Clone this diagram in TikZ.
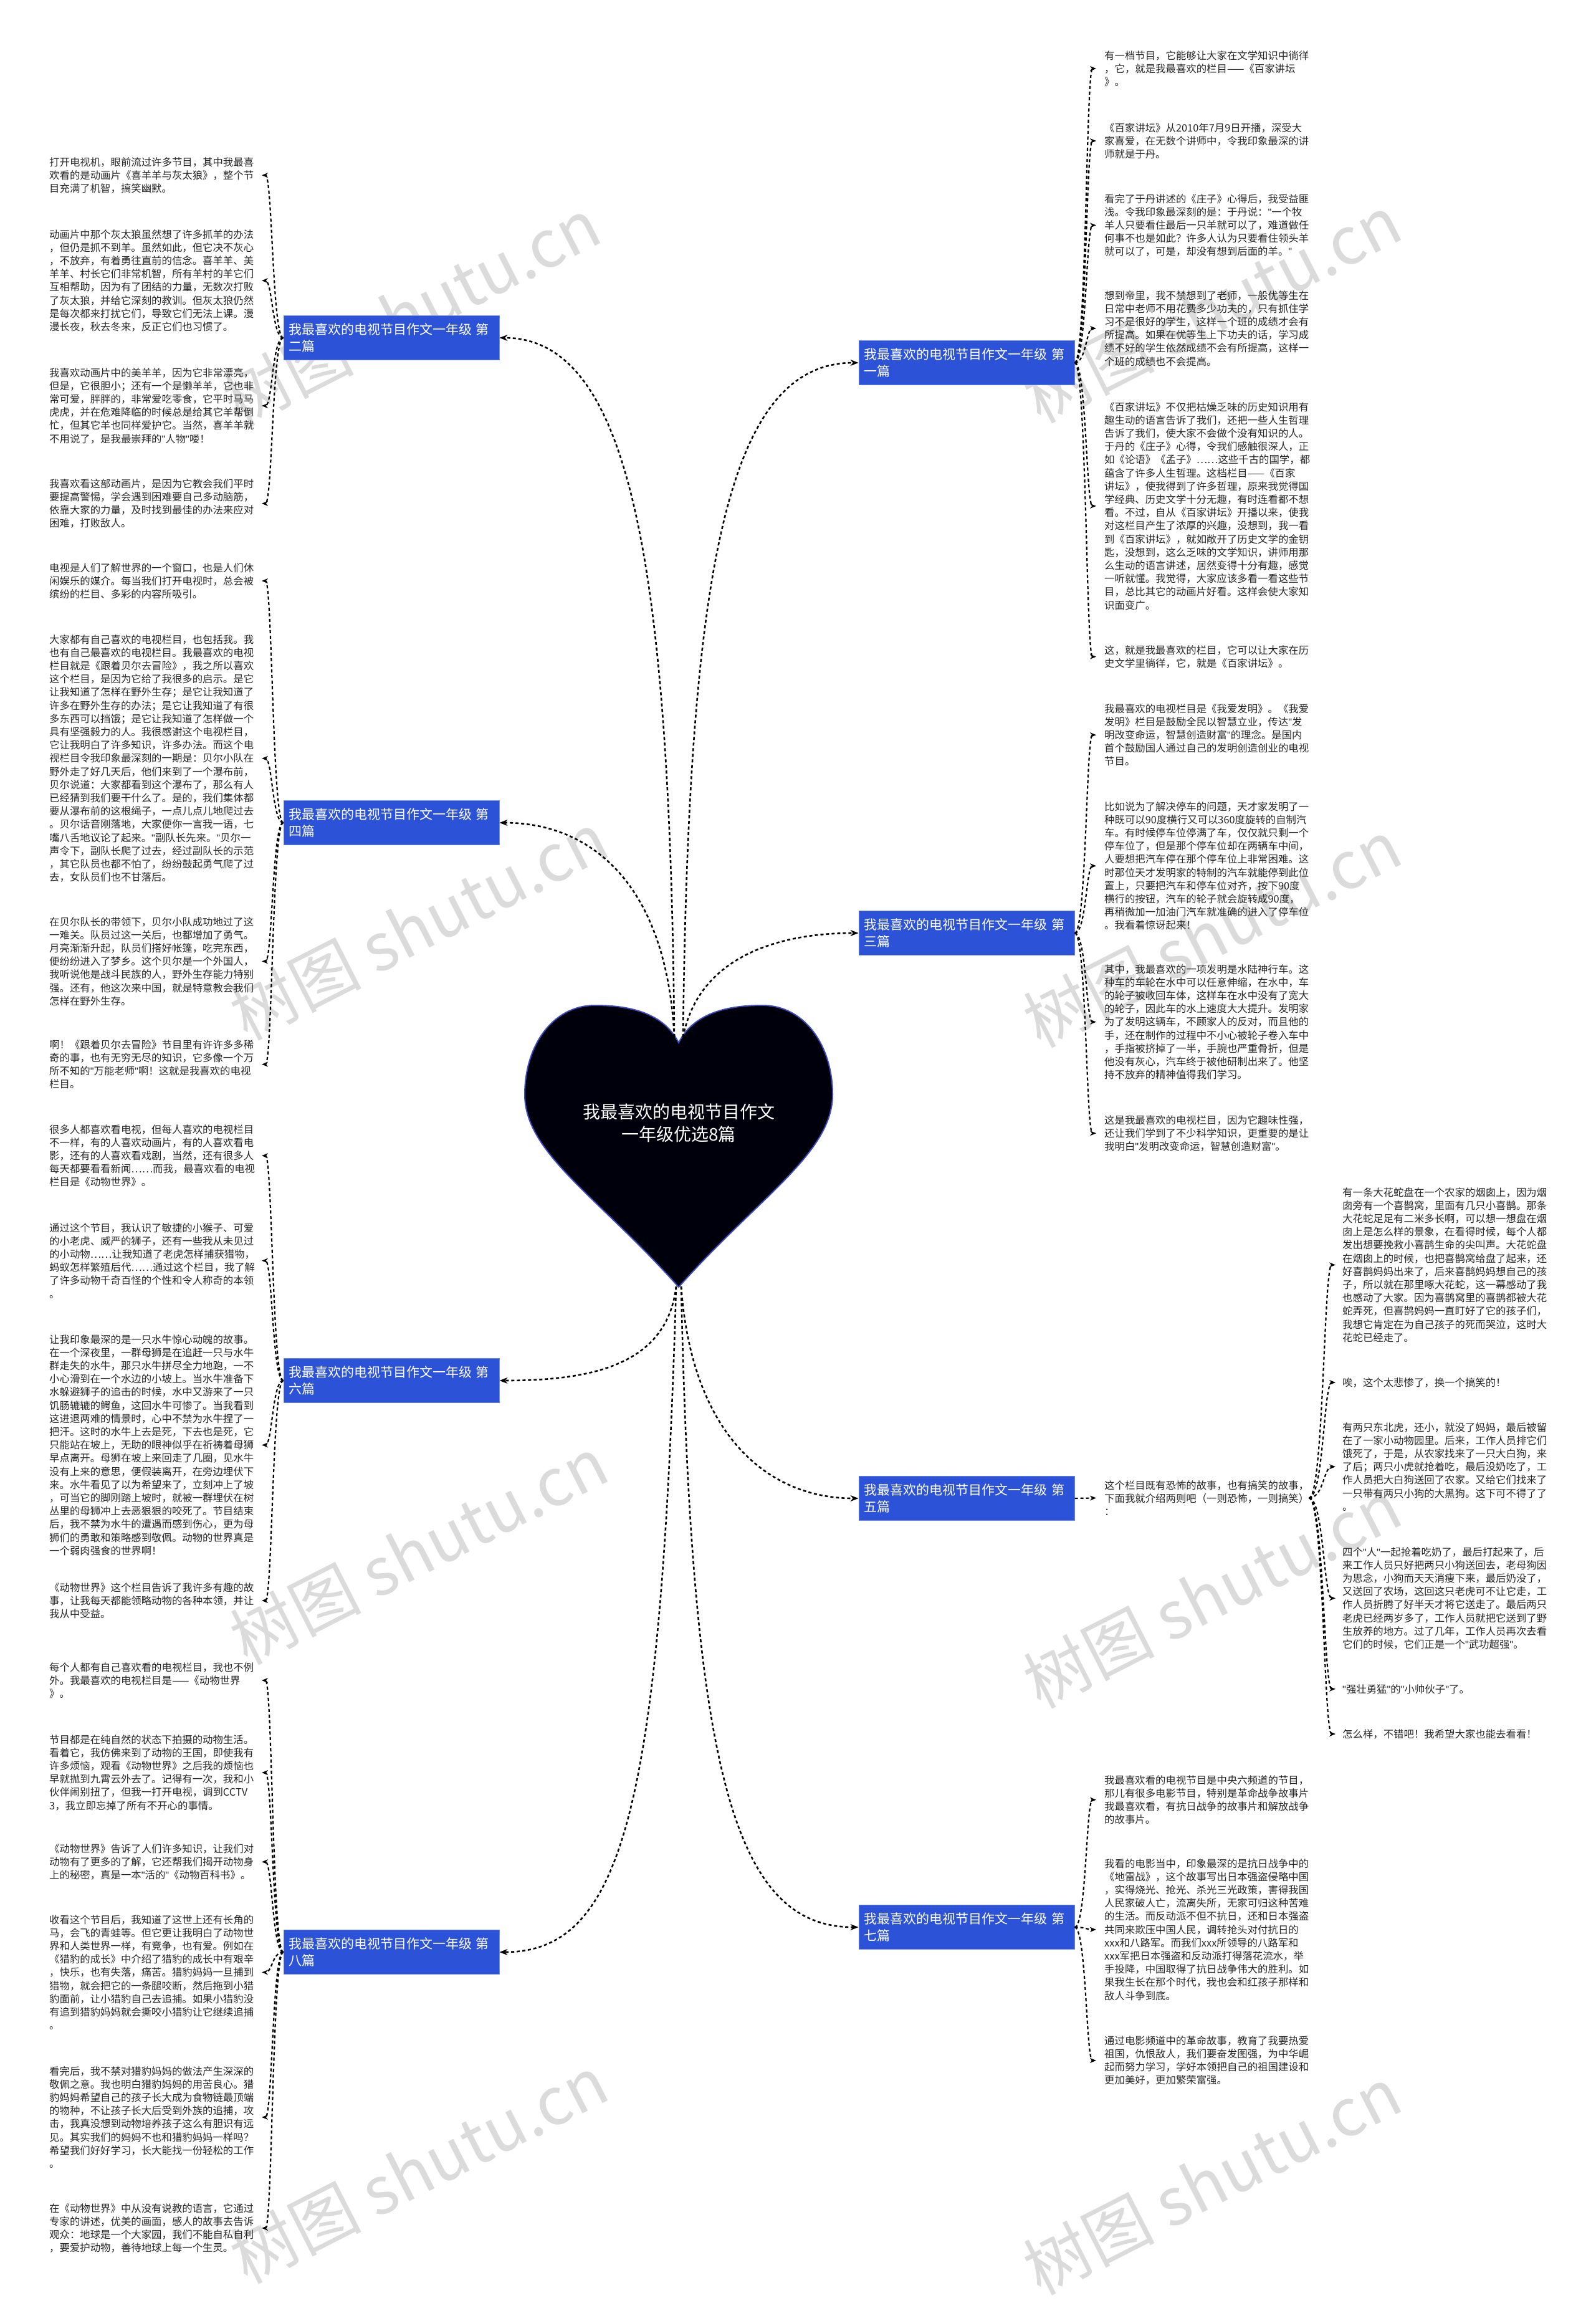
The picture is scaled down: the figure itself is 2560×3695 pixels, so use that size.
\documentclass[tikz,border=0pt]{standalone}
\usepackage{fontspec}
\setmainfont{Noto Sans CJK SC}
\newfontfamily\qfont{Liberation Sans}
\newcommand\Q{{\qfont"}}
\usetikzlibrary{arrows.meta}
\definecolor{nodeblue}{RGB}{44,82,216}
\definecolor{heartline}{RGB}{60,76,190}
\tikzset{
  txt/.style={inner sep=0pt, align=left, anchor=north west, text=black!85, font=\fontsize{16.4}{21.2}\selectfont},
  branch/.style={fill=nodeblue, draw=nodeblue!70!white, line width=1pt, text=white, text width=330pt, align=left, inner xsep=8pt, inner ysep=0pt, minimum height=71pt, font=\fontsize{21}{27}\selectfont},
  conn/.style={line width=2.6pt, dash pattern=on 5pt off 4pt, -{Stealth[length=13pt,width=10pt]}},
  sub/.style={line width=2.2pt, dash pattern=on 5pt off 4pt, -{Stealth[length=10pt,width=8pt]}},
  wm/.style={text=black!14, font=\fontsize{105}{105}\selectfont, rotate=27, inner sep=0pt}
}
\begin{document}
\begin{tikzpicture}[x=1pt,y=-1pt]
\useasboundingbox (0,0) rectangle (2560,3695);
\fill[white] (0,0) rectangle (2560,3695);
% watermarks
\node[wm] (w1) at (660,500) {树图 shutu.cn};
\node[wm] (w2) at (1945,495) {树图 shutu.cn};
\node[wm] (w3) at (672,1485) {树图 shutu.cn};
\node[wm] (w4) at (1945,1497) {树图 shutu.cn};
\node[wm] (w5) at (672,2487) {树图 shutu.cn};
\node[wm] (w6) at (1945,2557) {树图 shutu.cn};
\node[wm] (w7) at (672,3480) {树图 shutu.cn};
\node[wm] (w8) at (1945,3498) {树图 shutu.cn};
% heart
\filldraw[fill=black!95!blue, draw=heartline, line width=2pt]
  (1089,1673) .. controls (1065,1625) and (1010,1613) .. (955,1613)
  .. controls (885,1613) and (842,1680) .. (842,1756)
  .. controls (842,1850) and (960,1920) .. (1089,2065)
  .. controls (1218,1920) and (1336,1850) .. (1336,1756)
  .. controls (1336,1680) and (1293,1613) .. (1223,1613)
  .. controls (1168,1613) and (1113,1625) .. (1089,1673) -- cycle;
\node[text=white, align=center, font=\fontsize{28}{36}\selectfont] (root) at (1089,1802) {我最喜欢的电视节目作文\\一年级优选8篇};
\coordinate (hTL) at (1082,1664);
\coordinate (hTR) at (1096,1664);
\coordinate (hBL) at (1085,2064);
\coordinate (hBR) at (1093,2064);
% branch nodes
\node[branch] (n2) at (628,542) {我最喜欢的电视节目作文一年级 第\\二篇};
\node[branch] (n4) at (628,1320) {我最喜欢的电视节目作文一年级 第\\四篇};
\node[branch] (n6) at (628,2215) {我最喜欢的电视节目作文一年级 第\\六篇};
\node[branch] (n8) at (628,3132) {我最喜欢的电视节目作文一年级 第\\八篇};
\node[branch] (n1) at (1551,582) {我最喜欢的电视节目作文一年级 第\\一篇};
\node[branch] (n3) at (1551,1497) {我最喜欢的电视节目作文一年级 第\\三篇};
\node[branch] (n5) at (1551,2404) {我最喜欢的电视节目作文一年级 第\\五篇};
\node[branch] (n7) at (1551,3092) {我最喜欢的电视节目作文一年级 第\\七篇};
% main connectors
\draw[conn] (hTL) .. controls (1075,900) and (1010,542) .. (n2.east);
\draw[conn] (hTL) .. controls (1070,1420) and (950,1320) .. (n4.east);
\draw[conn] (hTR) .. controls (1105,900) and (1170,582) .. (n1.west);
\draw[conn] (hTR) .. controls (1120,1540) and (1240,1497) .. (n3.west);
\draw[conn] (hBL) .. controls (1070,2190) and (950,2215) .. (n6.east);
\draw[conn] (hBL) .. controls (1060,2900) and (1000,3132) .. (n8.east);
\draw[conn] (hBR) .. controls (1110,2300) and (1230,2404) .. (n5.west);
\draw[conn] (hBR) .. controls (1110,2850) and (1180,3092) .. (n7.west);
% guide coordinates
\coordinate (LT) at (437,0);
\coordinate (LA) at (420,0);
\coordinate (RT) at (1743,0);
\coordinate (RA) at (1759,0);
\coordinate (GT) at (2124,0);
\coordinate (GA) at (2143,0);
% ---- left texts: 二篇
\node[txt] (a1) at (79,252) {打开电视机，眼前流过许多节目，其中我最喜\\欢看的是动画片《喜羊羊与灰太狼》，整个节\\目充满了机智，搞笑幽默。};
\node[txt] (a2) at (79,368) {动画片中那个灰太狼虽然想了许多抓羊的办法\\，但仍是抓不到羊。虽然如此，但它决不灰心\\，不放弃，有着勇往直前的信念。喜羊羊、美\\羊羊、村长它们非常机智，所有羊村的羊它们\\互相帮助，因为有了团结的力量，无数次打败\\了灰太狼，并给它深刻的教训。但灰太狼仍然\\是每次都来打扰它们，导致它们无法上课。漫\\漫长夜，秋去冬来，反正它们也习惯了。};
\node[txt] (a3) at (79,590) {我喜欢动画片中的美羊羊，因为它非常漂亮，\\但是，它很胆小；还有一个是懒羊羊，它也非\\常可爱，胖胖的，非常爱吃零食，它平时马马\\虎虎，并在危难降临的时候总是给其它羊帮倒\\忙，但其它羊也同样爱护它。当然，喜羊羊就\\不用说了，是我最崇拜的\Q{}人物\Q{}喽！};
\node[txt] (a4) at (79,768) {我喜欢看这部动画片，是因为它教会我们平时\\要提高警惕，学会遇到困难要自己多动脑筋，\\依靠大家的力量，及时找到最佳的办法来应对\\困难，打败敌人。};
% ---- 四篇
\node[txt] (b1) at (79,903) {电视是人们了解世界的一个窗口，也是人们休\\闲娱乐的媒介。每当我们打开电视时，总会被\\缤纷的栏目、多彩的内容所吸引。};
\node[txt] (b2) at (79,1018) {大家都有自己喜欢的电视栏目，也包括我。我\\也有自己最喜欢的电视栏目。我最喜欢的电视\\栏目就是《跟着贝尔去冒险》，我之所以喜欢\\这个栏目，是因为它给了我很多的启示。是它\\让我知道了怎样在野外生存；是它让我知道了\\许多在野外生存的办法；是它让我知道了有很\\多东西可以挡饿；是它让我知道了怎样做一个\\具有坚强毅力的人。我很感谢这个电视栏目，\\它让我明白了许多知识，许多办法。而这个电\\视栏目令我印象最深刻的一期是：贝尔小队在\\野外走了好几天后，他们来到了一个瀑布前，\\贝尔说道：大家都看到这个瀑布了，那么有人\\已经猜到我们要干什么了。是的，我们集体都\\要从瀑布前的这根绳子，一点儿点儿地爬过去\\。贝尔话音刚落地，大家便你一言我一语，七\\嘴八舌地议论了起来。\Q{}副队长先来。\Q{}贝尔一\\声令下，副队长爬了过去，经过副队长的示范\\，其它队员也都不怕了，纷纷鼓起勇气爬了过\\去，女队员们也不甘落后。};
\node[txt] (b3) at (79,1471) {在贝尔队长的带领下，贝尔小队成功地过了这\\一难关。队员过这一关后，也都增加了勇气。\\月亮渐渐升起，队员们搭好帐篷，吃完东西，\\便纷纷进入了梦乡。这个贝尔是一个外国人，\\我听说他是战斗民族的人，野外生存能力特别\\强。还有，他这次来中国，就是特意教会我们\\怎样在野外生存。};
\node[txt] (b4) at (79,1668) {啊！《跟着贝尔去冒险》节目里有许许多多稀\\奇的事，也有无穷无尽的知识，它多像一个万\\所不知的\Q{}万能老师\Q{}啊！这就是我喜欢的电视\\栏目。};
% ---- 六篇
\node[txt] (c1) at (79,1804) {很多人都喜欢看电视，但每人喜欢的电视栏目\\不一样，有的人喜欢动画片，有的人喜欢看电\\影，还有的人喜欢看戏剧，当然，还有很多人\\每天都要看看新闻……而我，最喜欢看的电视\\栏目是《动物世界》。};
\node[txt] (c2) at (79,1962) {通过这个节目，我认识了敏捷的小猴子、可爱\\的小老虎、威严的狮子，还有一些我从未见过\\的小动物……让我知道了老虎怎样捕获猎物，\\蚂蚁怎样繁殖后代……通过这个栏目，我了解\\了许多动物千奇百怪的个性和令人称奇的本领\\。};
\node[txt] (c3) at (79,2141) {让我印象最深的是一只水牛惊心动魄的故事。\\在一个深夜里，一群母狮是在追赶一只与水牛\\群走失的水牛，那只水牛拼尽全力地跑，一不\\小心滑到在一个水边的小坡上。当水牛准备下\\水躲避狮子的追击的时候，水中又游来了一只\\饥肠辘辘的鳄鱼，这回水牛可惨了。当我看到\\这进退两难的情景时，心中不禁为水牛捏了一\\把汗。这时的水牛上去是死，下去也是死，它\\只能站在坡上，无助的眼神似乎在祈祷着母狮\\早点离开。母狮在坡上来回走了几圈，见水牛\\没有上来的意思，便假装离开，在旁边埋伏下\\来。水牛看见了以为希望来了，立刻冲上了坡\\，可当它的脚刚踏上坡时，就被一群埋伏在树\\丛里的母狮冲上去恶狠狠的咬死了。节目结束\\后，我不禁为水牛的遭遇而感到伤心，更为母\\狮们的勇敢和策略感到敬佩。动物的世界真是\\一个弱肉强食的世界啊！};
\node[txt] (c4) at (79,2539) {《动物世界》这个栏目告诉了我许多有趣的故\\事，让我每天都能领略动物的各种本领，并让\\我从中受益。};
% ---- 八篇
\node[txt] (d1) at (79,2667) {每个人都有自己喜欢看的电视栏目，我也不例\\外。我最喜欢的电视栏目是——《动物世界\\》。};
\node[txt] (d2) at (79,2783) {节目都是在纯自然的状态下拍摄的动物生活。\\看着它，我仿佛来到了动物的王国，即使我有\\许多烦恼，观看《动物世界》之后我的烦恼也\\早就抛到九霄云外去了。记得有一次，我和小\\伙伴闹别扭了，但我一打开电视，调到CCTV\\3，我立即忘掉了所有不开心的事情。};
\node[txt] (d3) at (79,2958) {《动物世界》告诉了人们许多知识，让我们对\\动物有了更多的了解，它还帮我们揭开动物身\\上的秘密，真是一本\Q{}活的\Q{}《动物百科书》。};
\node[txt] (d4) at (79,3072) {收看这个节目后，我知道了这世上还有长角的\\马，会飞的青蛙等。但它更让我明白了动物世\\界和人类世界一样，有竞争，也有爱。例如在\\《猎豹的成长》中介绍了猎豹的成长中有艰辛\\，快乐，也有失落，痛苦。猎豹妈妈一旦捕到\\猎物，就会把它的一条腿咬断，然后拖到小猎\\豹面前，让小猎豹自己去追捕。如果小猎豹没\\有追到猎豹妈妈就会撕咬小猎豹让它继续追捕\\。};
\node[txt] (d5) at (79,3315) {看完后，我不禁对猎豹妈妈的做法产生深深的\\敬佩之意。我也明白猎豹妈妈的用苦良心。猎\\豹妈妈希望自己的孩子长大成为食物链最顶端\\的物种，不让孩子长大后受到外族的追捕，攻\\击，我真没想到动物培养孩子这么有胆识有远\\见。其实我们的妈妈不也和猎豹妈妈一样吗？\\希望我们好好学习，长大能找一份轻松的工作\\。};
\node[txt] (d6) at (79,3535) {在《动物世界》中从没有说教的语言，它通过\\专家的讲述，优美的画面，感人的故事去告诉\\观众：地球是一个大家园，我们不能自私自利\\，要爱护动物，善待地球上每一个生灵。};
% ---- right: 一篇
\node[txt] (e1) at (1772,81) {有一档节目，它能够让大家在文学知识中徜徉\\，它，就是我最喜欢的栏目——《百家讲坛\\》。};
\node[txt] (e2) at (1772,197) {《百家讲坛》从2010年7月9日开播，深受大\\家喜爱，在无数个讲师中，令我印象最深的讲\\师就是于丹。};
\node[txt] (e3) at (1772,311) {看完了于丹讲述的《庄子》心得后，我受益匪\\浅。令我印象最深刻的是：于丹说：\Q{}一个牧\\羊人只要看住最后一只羊就可以了，难道做任\\何事不也是如此？许多人认为只要看住领头羊\\就可以了，可是，却没有想到后面的羊。\Q{}};
\node[txt] (e4) at (1772,466) {想到帝里，我不禁想到了老师，一般优等生在\\日常中老师不用花费多少功夫的，只有抓住学\\习不是很好的学生，这样一个班的成绩才会有\\所提高。如果在优等生上下功夫的话，学习成\\绩不好的学生依然成绩不会有所提高，这样一\\个班的成绩也不会提高。};
\node[txt] (e5) at (1772,645) {《百家讲坛》不仅把枯燥乏味的历史知识用有\\趣生动的语言告诉了我们，还把一些人生哲理\\告诉了我们，使大家不会做个没有知识的人。\\于丹的《庄子》心得，令我们感触很深人，正\\如《论语》《孟子》……这些千古的国学，都\\蕴含了许多人生哲理。这档栏目——《百家\\讲坛》，使我得到了许多哲理，原来我觉得国\\学经典、历史文学十分无趣，有时连看都不想\\看。不过，自从《百家讲坛》开播以来，使我\\对这栏目产生了浓厚的兴趣，没想到，我一看\\到《百家讲坛》，就如敞开了历史文学的金钥\\匙，没想到，这么乏味的文学知识，讲师用那\\么生动的语言讲述，居然变得十分有趣，感觉\\一听就懂。我觉得，大家应该多看一看这些节\\目，总比其它的动画片好看。这样会使大家知\\识面变广。};
\node[txt] (e6) at (1772,1035) {这，就是我最喜欢的栏目，它可以让大家在历\\史文学里徜徉，它，就是《百家讲坛》。};
% ---- 三篇
\node[txt] (f1) at (1772,1129) {我最喜欢的电视栏目是《我爱发明》。《我爱\\发明》栏目是鼓励全民以智慧立业，传达\Q{}发\\明改变命运，智慧创造财富\Q{}的理念。是国内\\首个鼓励国人通过自己的发明创造创业的电视\\节目。};
\node[txt] (f2) at (1772,1286) {比如说为了解决停车的问题，天才家发明了一\\种既可以90度横行又可以360度旋转的自制汽\\车。有时候停车位停满了车，仅仅就只剩一个\\停车位了，但是那个停车位却在两辆车中间，\\人要想把汽车停在那个停车位上非常困难。这\\时那位天才发明家的特制的汽车就能停到此位\\置上，只要把汽车和停车位对齐，按下90度\\横行的按钮，汽车的轮子就会旋转成90度，\\再稍微加一加油门汽车就准确的进入了停车位\\。我看着惊讶起来！};
\node[txt] (f3) at (1772,1547) {其中，我最喜欢的一项发明是水陆神行车。这\\种车的车轮在水中可以任意伸缩，在水中，车\\的轮子被收回车体，这样车在水中没有了宽大\\的轮子，因此车的水上速度大大提升。发明家\\为了发明这辆车，不顾家人的反对，而且他的\\手，还在制作的过程中不小心被轮子卷入车中\\，手指被挤掉了一半，手腕也严重骨折，但是\\他没有灰心，汽车终于被他研制出来了。他坚\\持不放弃的精神值得我们学习。};
\node[txt] (f4) at (1772,1789) {这是我最喜欢的电视栏目，因为它趣味性强，\\还让我们学到了不少科学知识，更重要的是让\\我明白\Q{}发明改变命运，智慧创造财富\Q{}。};
% ---- 五篇
\node[txt] (t5) at (1772,2375) {这个栏目既有恐怖的故事，也有搞笑的故事，\\下面我就介绍两则吧（一则恐怖，一则搞笑）\\：};
\node[txt] (g1) at (2154,1905) {有一条大花蛇盘在一个农家的烟囱上，因为烟\\囱旁有一个喜鹊窝，里面有几只小喜鹊。那条\\大花蛇足足有二米多长啊，可以想一想盘在烟\\囱上是怎么样的景象，在看得时候，每个人都\\发出想要挽救小喜鹊生命的尖叫声。大花蛇盘\\在烟囱上的时候，也把喜鹊窝给盘了起来，还\\好喜鹊妈妈出来了，后来喜鹊妈妈想自己的孩\\子，所以就在那里啄大花蛇，这一幕感动了我\\也感动了大家。因为喜鹊窝里的喜鹊都被大花\\蛇弄死，但喜鹊妈妈一直盯好了它的孩子们，\\我想它肯定在为自己孩子的死而哭泣，这时大\\花蛇已经走了。};
\node[txt] (g2) at (2154,2210) {唉，这个太悲惨了，换一个搞笑的！};
\node[txt] (g3) at (2154,2282) {有两只东北虎，还小，就没了妈妈，最后被留\\在了一家小动物园里。后来，工作人员排它们\\饿死了，于是，从农家找来了一只大白狗，来\\了后；两只小虎就抢着吃，最后没奶吃了，工\\作人员把大白狗送回了农家。又给它们找来了\\一只带有两只小狗的大黑狗。这下可不得了了\\。};
\node[txt] (g4) at (2154,2482) {四个\Q{}人\Q{}一起抢着吃奶了，最后打起来了，后\\来工作人员只好把两只小狗送回去，老母狗因\\为思念，小狗而天天消瘦下来，最后奶没了，\\又送回了农场，这回这只老虎可不让它走，工\\作人员折腾了好半天才将它送走了。最后两只\\老虎已经两岁多了，工作人员就把它送到了野\\生放养的地方。过了几年，工作人员再次去看\\它们的时候，它们正是一个\Q{}武功超强\Q{}。};
\node[txt] (g5) at (2154,2702) {\Q{}强壮勇猛\Q{}的\Q{}小帅伙子\Q{}了。};
\node[txt] (g6) at (2154,2774) {怎么样，不错吧！我希望大家也能去看看！};
% ---- 七篇
\node[txt] (h1) at (1772,2848) {我最喜欢看的电视节目是中央六频道的节目，\\那儿有很多电影节目，特别是革命战争故事片\\我最喜欢看，有抗日战争的故事片和解放战争\\的故事片。};
\node[txt] (h2) at (1772,2982) {我看的电影当中，印象最深的是抗日战争中的\\《地雷战》，这个故事写出日本强盗侵略中国\\，实得烧光、抢光、杀光三光政策，害得我国\\人民家破人亡，流离失所，无家可归这种苦难\\的生活。而反动派不但不抗日，还和日本强盗\\共同来欺压中国人民，调转抢头对付抗日的\\xxx和八路军。而我们xxx所领导的八路军和\\xxx军把日本强盗和反动派打得落花流水，举\\手投降，中国取得了抗日战争伟大的胜利。如\\果我生长在那个时代，我也会和红孩子那样和\\敌人斗争到底。};
\node[txt] (h3) at (1772,3266) {通过电影频道中的革命故事，教育了我要热爱\\祖国，仇恨敌人，我们要奋发图强，为中华崛\\起而努力学习，学好本领把自己的祖国建设和\\更加美好，更加繁荣富强。};
% ---- sub connectors, left
\foreach \p/\c in {n2/a1,n2/a2,n2/a3,n2/a4,n4/b1,n4/b2,n4/b3,n4/b4,n6/c1,n6/c2,n6/c3,n6/c4,n8/d1,n8/d2,n8/d3,n8/d4,n8/d5,n8/d6}
  \draw[sub] (\p.west) .. controls (\p.west -| LT) and (\c.west -| LT) .. (\c.west -| LA);
% right
\foreach \p/\c in {n1/e1,n1/e2,n1/e3,n1/e4,n1/e5,n1/e6,n3/f1,n3/f2,n3/f3,n3/f4,n7/h1,n7/h2,n7/h3}
  \draw[sub] (\p.east) .. controls (\p.east -| RT) and (\c.west -| RT) .. (\c.west -| RA);
\draw[sub] (n5.east) -- (t5.west -| RA);
\foreach \c in {g1,g2,g3,g4,g5,g6}
  \draw[sub] (t5.east) .. controls (t5.east -| GT) and (\c.west -| GT) .. (\c.west -| GA);
\end{tikzpicture}
\end{document}
